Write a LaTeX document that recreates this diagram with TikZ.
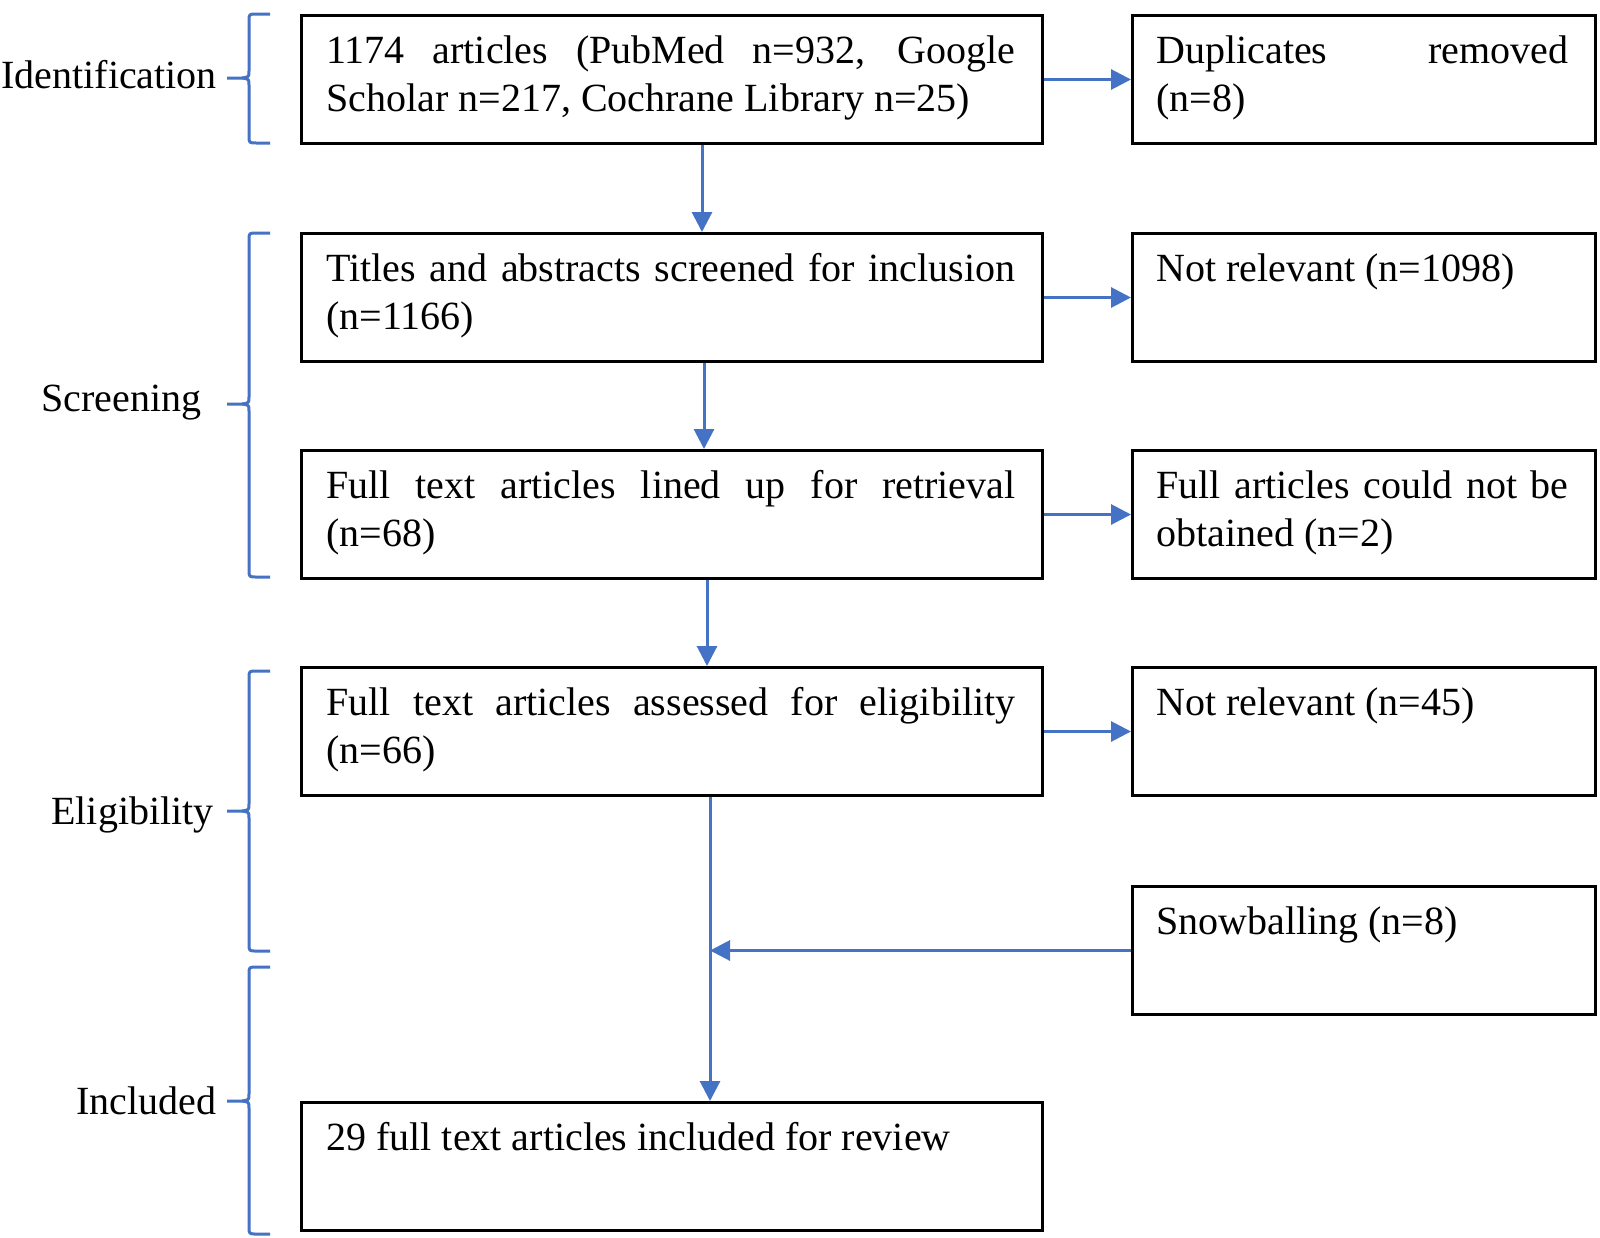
\documentclass[tikz,border=0pt]{standalone}
\usepackage{fontspec}
\setmainfont{Liberation Serif}
\usetikzlibrary{arrows.meta}
\definecolor{wblue}{RGB}{68,114,196}
\newcommand\stagebrace[3]{%
  \draw[brace] (270,#1) -- (257,#1) .. controls (249,#1) .. (249,#1+7) -- (249,#2-7) .. controls (249,#2-1) .. (242,#2) -- (227,#2);
  \draw[brace] (242,#2) .. controls (249,#2+1) .. (249,#2+7) -- (249,#3-7) .. controls (249,#3) .. (257,#3) -- (270,#3);}
\begin{document}
\begin{tikzpicture}[x=0.5pt,y=-0.5pt,
  box/.style={draw=black, line width=1.5pt, rectangle, anchor=north west, inner sep=0pt, minimum height=64pt},
  lbox/.style={box, minimum width=370.5pt},
  rbox/.style={box, minimum width=231.5pt},
  txt/.style={anchor=north west, inner sep=0pt, font=\fontsize{20}{24}\selectfont},
  arr/.style={draw=wblue, line width=1.5pt, -{Triangle[length=10pt,width=10pt]}},
  brace/.style={draw=wblue, line width=1.5pt, line join=round},
  stage/.style={anchor=base west, inner sep=0pt, font=\fontsize{20}{24}\selectfont}]
\useasboundingbox (0,0) rectangle (1600,1237);
% boxes
\node[lbox] (A) at (300,14) {};
\node[rbox] (Dup) at (1131,14) {};
\node[lbox] (B) at (300,232) {};
\node[rbox] (NR1) at (1131,232) {};
\node[lbox] (C) at (300,449) {};
\node[rbox] (FA) at (1131,449) {};
\node[lbox] (D) at (300,666) {};
\node[rbox] (NR2) at (1131,666) {};
\node[rbox] (S) at (1131,885) {};
\node[lbox] (E) at (300,1101) {};
% texts
\node[txt] (tA) at ([xshift=13pt,yshift=-7.7pt]A.north west) {\parbox{344.5pt}{\strut 1174 articles (PubMed n=932, Google\linebreak Scholar n=217, Cochrane Library n=25)}};
\node[txt] (tDup) at ([xshift=12.5pt,yshift=-7.7pt]Dup.north west) {\parbox{206pt}{\strut Duplicates removed\linebreak (n=8)}};
\node[txt] (tB) at ([xshift=13pt,yshift=-7.7pt]B.north west) {\parbox{344.5pt}{\strut Titles and abstracts screened for inclusion\linebreak (n=1166)}};
\node[txt] (tNR1) at ([xshift=12.5pt,yshift=-7.7pt]NR1.north west) {\parbox{206pt}{\strut Not relevant (n=1098)}};
\node[txt] (tC) at ([xshift=13pt,yshift=-7.7pt]C.north west) {\parbox{344.5pt}{\strut Full text articles lined up for retrieval\linebreak (n=68)}};
\node[txt] (tFA) at ([xshift=12.5pt,yshift=-7.7pt]FA.north west) {\parbox{206pt}{\strut Full articles could not be\linebreak obtained (n=2)}};
\node[txt] (tD) at ([xshift=13pt,yshift=-7.7pt]D.north west) {\parbox{344.5pt}{\strut Full text articles assessed for eligibility\linebreak (n=66)}};
\node[txt] (tNR2) at ([xshift=12.5pt,yshift=-7.7pt]NR2.north west) {\parbox{206pt}{\strut Not relevant (n=45)}};
\node[txt] (tS) at ([xshift=12.5pt,yshift=-7.7pt]S.north west) {\parbox{206pt}{\strut Snowballing (n=8)}};
\node[txt] (tE) at ([xshift=13pt,yshift=-7.7pt]E.north west) {\parbox{344.5pt}{\strut 29 full text articles included for review}};
% stage labels
\node[stage] (l1) at (1,88) {Identification};
\node[stage] (l2) at (41,411) {Screening};
\node[stage] (l3) at (51,824) {Eligibility};
\node[stage] (l4) at (76,1114) {Included};
% braces
\stagebrace{14}{78}{143}
\stagebrace{233}{404}{577}
\stagebrace{671}{811}{951}
\stagebrace{967}{1101}{1234}
% connectors
\coordinate (x1) at (702,0);
\coordinate (x2) at (704,0);
\coordinate (x3) at (707,0);
\coordinate (x4) at (710,0);
\draw[arr] (A.south -| x1) -- (B.north -| x1);
\draw[arr] (B.south -| x2) -- (C.north -| x2);
\draw[arr] (C.south -| x3) -- (D.north -| x3);
\draw[arr] (D.south -| x4) -- (E.north -| x4);
\draw[arr] (A.east) -- (Dup.west);
\draw[arr] (B.east) -- (NR1.west);
\draw[arr] (C.east) -- (FA.west);
\draw[arr] (D.east) -- (NR2.west);
\draw[arr] (S.west) -- (S.west -| x4);
\end{tikzpicture}
\end{document}
